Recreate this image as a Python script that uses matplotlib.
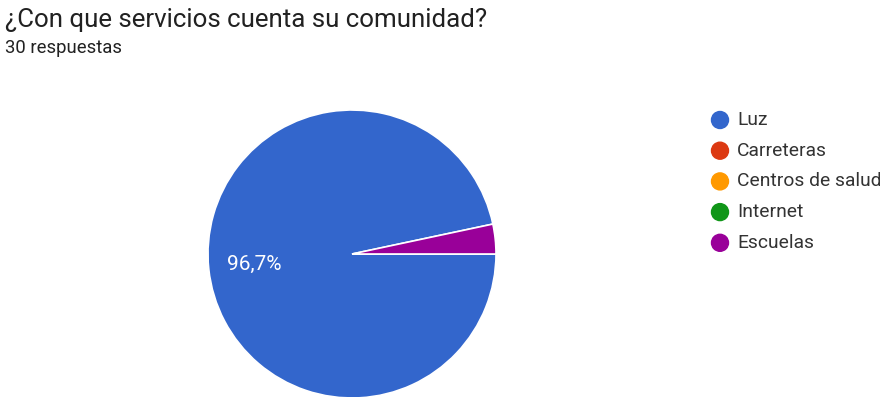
import numpy as np
import matplotlib.pyplot as plt
from matplotlib.patches import Circle

# Survey answers (30 responses)
labels = ['Luz', 'Carreteras', 'Centros de salud', 'Internet', 'Escuelas']
counts = [29, 0, 0, 0, 1]
colors = ['#3366cc', '#dc3912', '#ff9900', '#109618', '#990099']

title = '¿Con que servicios cuenta su comunidad?'
subtitle = '30 respuestas'

plt.rcParams['font.family'] = ['Roboto', 'DejaVu Sans']

W, H = 880, 397
fig = plt.figure(figsize=(W / 100, H / 100), dpi=100)

# pie centre and radius in pixels
cx, cy, r = 352, 254, 144
ax = fig.add_axes([(cx - r) / W, (H - cy - r) / H, 2 * r / W, 2 * r / H])
wedges, _ = ax.pie(counts, colors=colors, startangle=12, counterclock=True,
                   wedgeprops=dict(edgecolor='white', linewidth=1.2))
ax.set_xlim(-1, 1)
ax.set_ylim(-1, 1)
ax.set_aspect('equal')

# percentage label only for the big slice
total = sum(counts)
for w, c in zip(wedges, counts):
    if c / total < 0.05:
        continue
    mid = np.deg2rad((w.theta1 + w.theta2) / 2)
    ax.text(0.68 * np.cos(mid), 0.68 * np.sin(mid),
            f'{100 * c / total:.1f}%'.replace('.', ','),
            color='white', fontsize=15, ha='center', va='center')

# title block
fig.text(5 / W, 1 - 20 / H, title, fontsize=18.6, color='#212121', va='center')
fig.text(5 / W, 1 - 48 / H, subtitle, fontsize=13.3, color='#212121', va='center')

# legend drawn by hand
lax = fig.add_axes([0, 0, 1, 1])
lax.set_xlim(0, W)
lax.set_ylim(H, 0)
lax.axis('off')
for i, (lab, col) in enumerate(zip(labels, colors)):
    y = 120 + i * 30.7
    lax.add_patch(Circle((720, y), 8.5, color=col))
    lax.text(737, y, lab, fontsize=13.9, color='#333333', va='center')

fig.savefig('out.png', dpi=100)
